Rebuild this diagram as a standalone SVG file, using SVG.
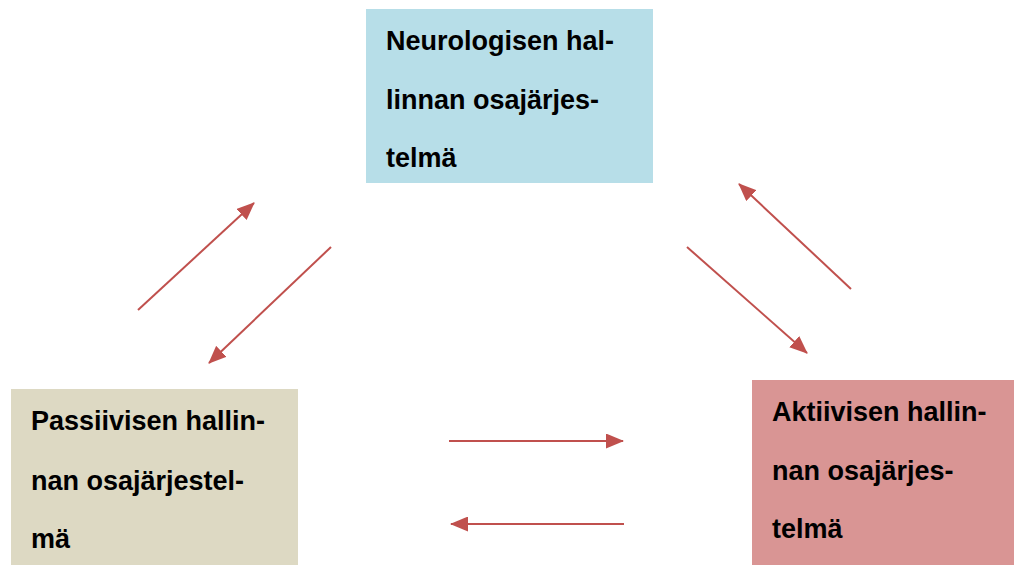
<svg xmlns="http://www.w3.org/2000/svg" width="1014" height="565" viewBox="0 0 1014 565">
<style>
.lbl{font-family:"Liberation Sans",Arial,sans-serif;font-weight:bold;font-size:27px;fill:#000}
.conn{stroke:#C0504D;stroke-width:2;fill:none;marker-end:url(#ah)}
</style>
<defs>
<marker id="ah" markerUnits="userSpaceOnUse" markerWidth="18" markerHeight="15" viewBox="0 0 18 15" refX="17" refY="7.5" orient="auto">
<path d="M0,0 L18,7.5 L0,15 Z" fill="#C0504D"/>
</marker>
</defs>
<rect width="1014" height="565" fill="#fff"/>
<g id="node-neuro">
<rect x="366" y="9" width="287" height="174" fill="#B7DEE8"/>
<text class="lbl" x="386" y="50">Neurologisen hal-</text>
<text class="lbl" x="386" y="109">linnan osajärjes-</text>
<text class="lbl" x="386" y="167">telmä</text>
</g>
<g id="node-passive">
<rect x="11" y="389" width="287" height="176" fill="#DDD9C3"/>
<text class="lbl" x="31" y="430">Passiivisen hallin-</text>
<text class="lbl" x="31" y="490">nan osajärjestel-</text>
<text class="lbl" x="31" y="548">mä</text>
</g>
<g id="node-active">
<rect x="752" y="380" width="262" height="185" fill="#D99594"/>
<text class="lbl" x="772" y="421">Aktiivisen hallin-</text>
<text class="lbl" x="772" y="480">nan osajärjes-</text>
<text class="lbl" x="772" y="538">telmä</text>
</g>
<g id="connectors">
<line class="conn" x1="138" y1="310" x2="254" y2="203"/>
<line class="conn" x1="331" y1="247" x2="209" y2="363"/>
<line class="conn" x1="851" y1="289" x2="739" y2="184"/>
<line class="conn" x1="687" y1="247" x2="807" y2="353"/>
<line class="conn" x1="449" y1="441" x2="623" y2="441"/>
<line class="conn" x1="624" y1="524" x2="451" y2="524"/>
</g>
</svg>
